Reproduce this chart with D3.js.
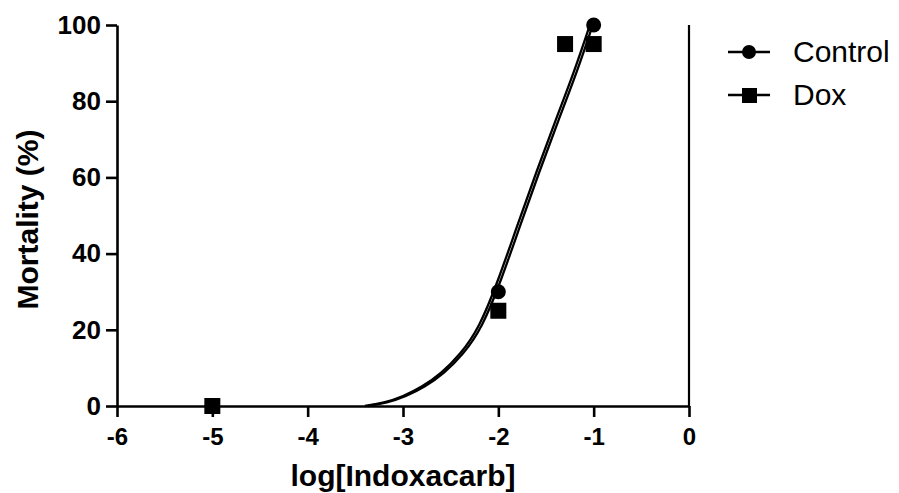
<!DOCTYPE html>
<html>
<head>
<meta charset="utf-8">
<script src="https://cdn.jsdelivr.net/npm/d3@7"></script>
<style>
    body { margin: 0; background: #fff; }
    text { font-family: "Liberation Sans", Arial, sans-serif; fill: #000; }
</style>
</head>
<body>
<div id="chart"></div>
<script>
/* Tick values */
var xTicks = [-6, -5, -4, -3, -2, -1, 0];
var yTicks = [0, 20, 40, 60, 80, 100];

/* Measured points */
var controlDose = [-5, -2, -1];
var controlMortality = [0, 30, 100];
var doxDose = [-5, -2, -1.3, -1];
var doxMortality = [0, 25, 95, 95];

/* Fitted curves */
var controlFitDose = [-3.4, -3.2, -3.0, -2.8, -2.6, -2.4, -2.2, -2.0, -1.8, -1.6, -1.4, -1.2, -1.04];
var controlFit = [0, 0.8, 2.5, 5, 8.5, 13.5, 20.5, 33, 47.5, 61.5, 75, 88, 100];
var doxFitDose = [-3.37, -3.17, -2.97, -2.77, -2.57, -2.37, -2.17, -1.97, -1.77, -1.57, -1.37, -1.17, -1.01];
var doxFit = [0, 0.8, 2.5, 5, 8.5, 13.5, 20.5, 33, 47.5, 61.5, 75, 88, 100];

var seriesNames = ["Control", "Dox"];

function chart(selector)
{
    var width = 899;
    var height = 493;
    var left = 117, right = 689, top = 25, bottom = 406;

    var theSVG = d3.select(selector)
        .append("svg")
        .attr("width", width)
        .attr("height", height)
    ;

    var x = d3.scaleLinear().domain([-6, 0]).range([left, right]);
    var y = d3.scaleLinear().domain([0, 100]).range([bottom, top]);
    var plain = function (d) { return String(d); };

    /* Y axis */
    var yAxis = theSVG.append("g")
        .attr("transform", "translate(" + left + ",0)")
        .call(d3.axisLeft(y).tickValues(yTicks).tickFormat(plain).tickSize(11).tickSizeOuter(0).tickPadding(5))
    ;
    yAxis.selectAll("text").style("font-size", "26px").style("font-weight", "bold");

    /* X axis */
    var xAxis = theSVG.append("g")
        .attr("transform", "translate(0," + bottom + ")")
        .call(d3.axisBottom(x).tickValues(xTicks).tickFormat(plain).tickSize(11).tickSizeOuter(0).tickPadding(11))
    ;
    xAxis.selectAll("text").style("font-size", "24px").style("font-weight", "bold");

    theSVG.selectAll(".domain, .tick line")
        .attr("stroke", "#000")
        .attr("stroke-width", 2.6)
    ;

    /* Right frame line */
    theSVG.append("line")
        .attr("x1", x(0)).attr("x2", x(0))
        .attr("y1", y(100)).attr("y2", y(0))
        .attr("stroke", "#000")
        .attr("stroke-width", 2.2)
    ;

    /* Axis titles */
    theSVG.append("text")
        .attr("transform", "translate(38," + ((top + bottom) / 2 + 4) + ") rotate(-90)")
        .attr("text-anchor", "middle")
        .style("font-size", "30px")
        .style("font-weight", "bold")
        .text("Mortality (%)")
    ;
    theSVG.append("text")
        .attr("x", x(-3))
        .attr("y", 486)
        .attr("text-anchor", "middle")
        .style("font-size", "30px")
        .style("font-weight", "bold")
        .text("log[Indoxacarb]")
    ;

    /* Fitted curves */
    var line = d3.line()
        .x(function (d) { return x(d[0]); })
        .y(function (d) { return y(d[1]); })
        .curve(d3.curveBasis)
    ;
    var fits = [d3.zip(controlFitDose, controlFit), d3.zip(doxFitDose, doxFit)];
    theSVG.selectAll(".fit")
        .data(fits)
        .enter().append("path")
        .attr("class", "fit")
        .attr("d", line)
        .attr("fill", "none")
        .attr("stroke", "#000")
        .attr("stroke-width", 2.3)
    ;

    /* Control points (circles) */
    theSVG.selectAll(".ctrl")
        .data(d3.zip(controlDose, controlMortality))
        .enter().append("circle")
        .attr("class", "ctrl")
        .attr("cx", function (d) { return x(d[0]); })
        .attr("cy", function (d) { return y(d[1]); })
        .attr("r", 7.5)
        .attr("fill", "#000")
    ;

    /* Dox points (squares) */
    var sq = 16;
    theSVG.selectAll(".dox")
        .data(d3.zip(doxDose, doxMortality))
        .enter().append("rect")
        .attr("class", "dox")
        .attr("x", function (d) { return x(d[0]) - sq / 2; })
        .attr("y", function (d) { return y(d[1]) - sq / 2; })
        .attr("width", sq)
        .attr("height", sq)
        .attr("fill", "#000")
    ;

    /* Legend */
    var legend = theSVG.append("g").attr("transform", "translate(728,52)");
    seriesNames.forEach(function (name, i) {
        var g = legend.append("g").attr("transform", "translate(0," + (i * 43) + ")");
        g.append("line")
            .attr("x1", 0).attr("x2", 42)
            .attr("stroke", "#000")
            .attr("stroke-width", 2.6)
        ;
        if (i == 0) {
            g.append("circle").attr("cx", 21).attr("r", 7).attr("fill", "#000");
        }
        else {
            g.append("rect").attr("x", 14).attr("y", -7).attr("width", 15).attr("height", 15).attr("fill", "#000");
        }
        g.append("text")
            .attr("x", 65)
            .attr("y", 10)
            .style("font-size", "30px")
            .text(name)
        ;
    });
}

chart("#chart");
</script>
</body>
</html>
